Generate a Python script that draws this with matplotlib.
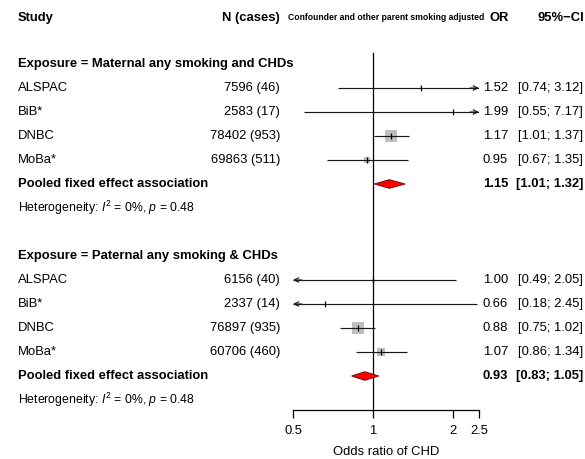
import numpy as np
import matplotlib
matplotlib.use("Agg")
import matplotlib.pyplot as plt
import matplotlib.transforms as mtransforms

plt.rcParams['font.family'] = ['Liberation Sans', 'DejaVu Sans']
plt.rcParams['mathtext.fontset'] = 'custom'
plt.rcParams['mathtext.rm'] = 'Liberation Sans'
plt.rcParams['mathtext.it'] = 'Liberation Sans:italic'

# ---------------- data ----------------
studies = ["ALSPAC", "BiB*", "DNBC", "MoBa*"]
mat_title = "Exposure = Maternal any smoking and CHDs"
mat_n = ["7596 (46)", "2583 (17)", "78402 (953)", "69863 (511)"]
mat_or = [1.52, 1.99, 1.17, 0.95]
mat_lo = [0.74, 0.55, 1.01, 0.67]
mat_hi = [3.12, 7.17, 1.37, 1.35]
mat_pooled = [1.15, 1.01, 1.32]
mat_het = r"Heterogeneity: $\mathit{I}^2$ = 0%, $\mathit{p}$ = 0.48"

pat_title = "Exposure = Paternal any smoking & CHDs"
pat_n = ["6156 (40)", "2337 (14)", "76897 (935)", "60706 (460)"]
pat_or = [1.00, 0.66, 0.88, 1.07]
pat_lo = [0.49, 0.18, 0.75, 0.86]
pat_hi = [2.05, 2.45, 1.02, 1.34]
pat_pooled = [0.93, 0.83, 1.05]
pat_het = r"Heterogeneity: $\mathit{I}^2$ = 0%, $\mathit{p}$ = 0.48"

pooled_label = "Pooled fixed effect association"
xticks = [0.5, 1, 2, 2.5]
xtick_labels = ["0.5", "1", "2", "2.5"]
xlim = (0.5, 2.5)

# ---------------- layout ----------------
W, H = 585, 459
fig = plt.figure(figsize=(W / 100, H / 100), dpi=100)
ax_left, ax_right = 293, 479
ax_bottom_px = 410
row0_px, row_step = 64, 24
ax = fig.add_axes([ax_left / W, (H - ax_bottom_px) / H, (ax_right - ax_left) / W, ax_bottom_px / H])
ax.set_xscale('log')
ax.set_xlim(*xlim)
ytop = (0 - row0_px) / row_step
ybot = (ax_bottom_px - row0_px) / row_step
ax.set_ylim(ybot, ytop)

fs = 9.4

for s in ['top', 'left', 'right']:
    ax.spines[s].set_visible(False)
ax.spines['bottom'].set_bounds(xlim[0], xlim[1])
ax.spines['bottom'].set_linewidth(0.9)
ax.set_yticks([])
ax.set_xticks(xticks)
ax.set_xticklabels(xtick_labels)
ax.minorticks_off()
ax.tick_params(axis='x', which='major', length=5.5, width=0.9, pad=5, labelsize=fs)
ax.set_xlabel("Odds ratio of CHD", fontsize=fs, labelpad=6.5)

trans = mtransforms.blended_transform_factory(fig.transFigure, ax.transData)


def fx(px):
    return px / W

# reference line
ax.plot([1, 1], [(53 - row0_px) / row_step, ybot], color='black', lw=0.9, zorder=1, clip_on=False)

# headers
yh = (18 - row0_px) / row_step
ax.text(fx(18), yh, "Study", transform=trans, ha='left', va='center', fontsize=fs, fontweight='bold')
ax.text(fx(280), yh, "N (cases)", transform=trans, ha='right', va='center', fontsize=fs, fontweight='bold')
ax.text(fx(288), yh, "Confounder and other parent smoking adjusted", transform=trans, ha='left',
        va='center', fontsize=6.2, fontweight='bold')
ax.text(fx(509), yh, "OR", transform=trans, ha='right', va='center', fontsize=fs, fontweight='bold')
ax.text(fx(584), yh, "95%\u2212CI", transform=trans, ha='right', va='center', fontsize=fs, fontweight='bold')


def draw_group(start, title, ns, ors, los, his, pooled, het):
    ax.text(fx(18), start, title, transform=trans, ha='left', va='center', fontsize=fs, fontweight='bold')
    for i in range(len(studies)):
        y = start + 1 + i
        ax.text(fx(18), y, studies[i], transform=trans, ha='left', va='center', fontsize=fs)
        ax.text(fx(280), y, ns[i], transform=trans, ha='right', va='center', fontsize=fs)
        ax.text(fx(508), y, f"{ors[i]:.2f}", transform=trans, ha='right', va='center', fontsize=fs)
        ax.text(fx(583), y, f"[{los[i]:.2f}; {his[i]:.2f}]", transform=trans, ha='right', va='center', fontsize=fs)
        se = (np.log(his[i]) - np.log(los[i])) / (2 * 1.959964)
        w = 1 / se ** 2
        size_px = np.sqrt(w)
        ax.plot([ors[i]], [y], marker='s', markersize=size_px / 1.389, color='#BEBEBE',
                markeredgewidth=0, zorder=2, linestyle='none')
        lo = max(los[i], xlim[0])
        hi = min(his[i], xlim[1])
        ax.plot([lo, hi], [y, y], color='#1a1a1a', lw=0.85, zorder=3, solid_capstyle='butt')
        if his[i] > xlim[1]:
            ax.annotate('', xy=(xlim[1], y), xytext=(xlim[1] / 1.08, y),
                        arrowprops=dict(arrowstyle='->', lw=0.85, color='#1a1a1a', shrinkA=0, shrinkB=0,
                                        mutation_scale=8), annotation_clip=False, zorder=3)
        if los[i] < xlim[0]:
            ax.annotate('', xy=(xlim[0], y), xytext=(xlim[0] * 1.08, y),
                        arrowprops=dict(arrowstyle='->', lw=0.85, color='#1a1a1a', shrinkA=0, shrinkB=0,
                                        mutation_scale=8), annotation_clip=False, zorder=3)
        ax.plot([ors[i]], [y], marker='|', markersize=4.5, markeredgewidth=0.9, color='black', zorder=4,
                linestyle='none')
    yp = start + 1 + len(studies)
    ax.text(fx(18), yp, pooled_label, transform=trans, ha='left', va='center', fontsize=fs, fontweight='bold')
    ax.text(fx(508), yp, f"{pooled[0]:.2f}", transform=trans, ha='right', va='center', fontsize=fs,
            fontweight='bold')
    ax.text(fx(583), yp, f"[{pooled[1]:.2f}; {pooled[2]:.2f}]", transform=trans, ha='right', va='center',
            fontsize=fs, fontweight='bold')
    dh = 0.18
    ax.fill([pooled[1], pooled[0], pooled[2], pooled[0]], [yp, yp - dh, yp, yp + dh],
            facecolor='red', edgecolor='#600000', lw=0.6, zorder=5)
    ax.text(fx(18), yp + 1, het, transform=trans, ha='left', va='center', fontsize=8.8)


draw_group(0, mat_title, mat_n, mat_or, mat_lo, mat_hi, mat_pooled, mat_het)
draw_group(8, pat_title, pat_n, pat_or, pat_lo, pat_hi, pat_pooled, pat_het)

fig.savefig("out.png", dpi=100)
